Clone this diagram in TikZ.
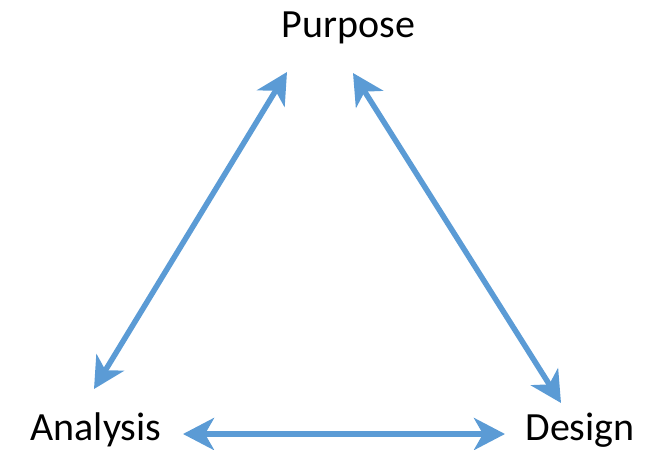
\documentclass[tikz,border=0pt]{standalone}
\usepackage{fontspec}
\setmainfont{Carlito}
\usetikzlibrary{arrows.meta}
\definecolor{arrowblue}{HTML}{5B9BD5}
\begin{document}
\begin{tikzpicture}[x=1pt,y=-1pt,
  label/.style={anchor=base,inner sep=0pt,font=\fontsize{40}{48}\selectfont},
  conn/.style={draw=arrowblue,line width=5.5pt,
    {Stealth[length=31pt,width=32pt,inset=9pt]}-{Stealth[length=31pt,width=32pt,inset=9pt]}}]
\useasboundingbox (0,0) rectangle (657,450);
\node[label] (purpose) at (348.5,37) {Purpose};
\node[label] (analysis) at (96,440) {Analysis};
\node[label] (design) at (580,440) {Design};
\coordinate (pl) at (287,72);
\coordinate (pr) at (353,73);
\coordinate (an) at (94,389);
\coordinate (ab) at (183,434);
\coordinate (dn) at (561,403);
\coordinate (db) at (505,434);
\draw[conn] (an) -- (pl);
\draw[conn] (pr) -- (dn);
\draw[conn] (ab) -- (db);
\end{tikzpicture}
\end{document}
